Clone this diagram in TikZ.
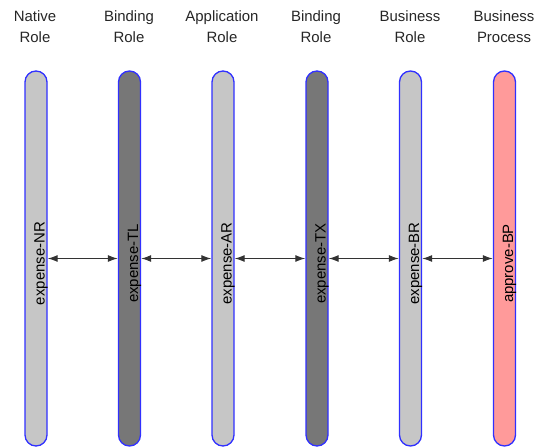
\documentclass[tikz,border=0pt]{standalone}
\usepackage{fontspec}
\setmainfont{Liberation Sans}
\usetikzlibrary{arrows.meta}
\definecolor{lightbar}{HTML}{C6C6C6}
\definecolor{darkbar}{HTML}{777777}
\definecolor{pinkbar}{HTML}{FF9A9A}
\definecolor{barline}{HTML}{3030FF}
\definecolor{arrowcol}{HTML}{333333}
\tikzset{
  lane/.style={draw=barline, line width=1.3bp, rounded corners=11bp,
    minimum width=22bp, minimum height=375bp, inner sep=0pt, outer sep=0pt},
  lanetext/.style={rotate=90, inner sep=0pt, font=\fontsize{15}{16}\selectfont},
  header/.style={align=center, inner sep=0pt, font=\fontsize{15}{20.5}\selectfont, text=black!85},
  link/.style={draw=arrowcol, line width=1.1bp,
    {Latex[length=10bp,width=7bp]}-{Latex[length=10bp,width=7bp]}, shorten <=0.7bp, shorten >=0.7bp}
}
\begin{document}
\begin{tikzpicture}[x=1bp,y=-1bp]
\useasboundingbox (0,0) rectangle (539,447);
% headers
\node[header] (h1) at (35,26.5) {Native\\Role};
\node[header] (h2) at (129,26.5) {Binding\\Role};
\node[header] (h3) at (222,26.5) {Application\\Role};
\node[header] (h4) at (316,26.5) {Binding\\Role};
\node[header] (h5) at (410,26.5) {Business\\Role};
\node[header] (h6) at (504,26.5) {Business\\Process};
% lanes
\node[lane, fill=lightbar] (b1) at (36,258.5) {};
\node[lane, fill=darkbar]  (b2) at (129.5,258.5) {};
\node[lane, fill=lightbar] (b3) at (223,258.5) {};
\node[lane, fill=darkbar]  (b4) at (317,258.5) {};
\node[lane, fill=lightbar] (b5) at (410.5,258.5) {};
\node[lane, fill=pinkbar]  (b6) at (504.5,258.5) {};
% lane texts
\node[lanetext] (t1) at (41,263.5) {expense-NR};
\node[lanetext] (t2) at (134.5,263.5) {expense-TL};
\node[lanetext] (t3) at (228,263.5) {expense-AR};
\node[lanetext] (t4) at (322,263.5) {expense-TX};
\node[lanetext] (t5) at (415.5,263.5) {expense-BR};
\node[lanetext] (t6) at (509.5,263.5) {approve-BP};
% links
\draw[link] (b1.east) -- (b2.west);
\draw[link] (b2.east) -- (b3.west);
\draw[link] (b3.east) -- (b4.west);
\draw[link] (b4.east) -- (b5.west);
\draw[link] (b5.east) -- (b6.west);
\end{tikzpicture}
\end{document}
